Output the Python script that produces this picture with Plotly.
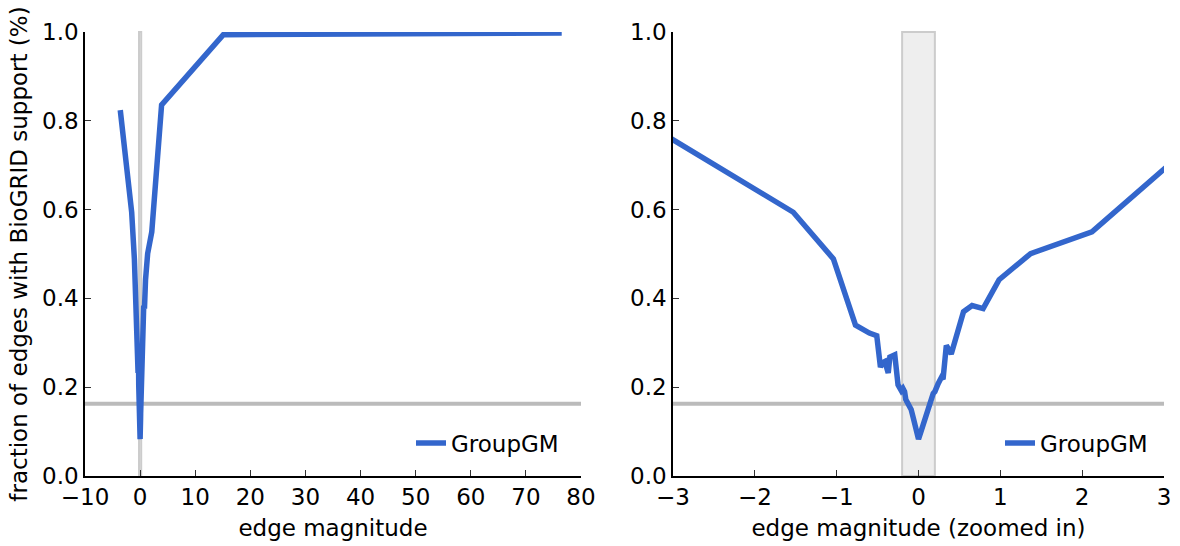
import plotly.graph_objects as go

# Fraction of edges with BioGRID support as a function of edge magnitude
edge_magnitude = [
    -3.6, -1.53, -1.04, -0.77, -0.60, -0.51, -0.465, -0.44, -0.41, -0.385,
    -0.37, -0.35, -0.33, -0.29, -0.25, -0.23, -0.21, -0.19, -0.17, -0.155,
    -0.14, -0.12, -0.09, -0.06, -0.03, 0.0, 0.03, 0.06, 0.08, 0.10, 0.12,
    0.14, 0.16, 0.18, 0.20, 0.22, 0.24, 0.26, 0.28, 0.30, 0.34, 0.40, 0.55,
    0.655, 0.79, 0.985, 1.37, 2.12, 3.9, 15.1, 76.5,
]
groupgm_fraction = [
    0.824, 0.594, 0.489, 0.340, 0.322, 0.316, 0.245, 0.255, 0.258, 0.236,
    0.232, 0.268, 0.270, 0.273, 0.205, 0.198, 0.192, 0.197, 0.190, 0.172,
    0.168, 0.163, 0.150, 0.128, 0.102, 0.083, 0.100, 0.118, 0.126, 0.142,
    0.150, 0.158, 0.170, 0.186, 0.190, 0.205, 0.208, 0.215, 0.222, 0.218,
    0.294, 0.275, 0.370, 0.384, 0.377, 0.442, 0.501, 0.550, 0.836, 0.994,
    0.998,
]
baseline_fraction = 0.163
band_low, band_high = -0.2, 0.2
series_name = "GroupGM"

LINE_COLOR = "#3366cc"
FONT = "DejaVu Sans"
FS = 23

fig = go.Figure()

fig.add_trace(go.Scatter(
    x=edge_magnitude, y=groupgm_fraction, mode="lines", name=series_name,
    line=dict(color=LINE_COLOR, width=5.5), xaxis="x", yaxis="y",
    legend="legend",
))
fig.add_trace(go.Scatter(
    x=edge_magnitude, y=groupgm_fraction, mode="lines", name=series_name,
    line=dict(color=LINE_COLOR, width=5.5), xaxis="x2", yaxis="y2",
    legend="legend2",
))

# Shaded band around zero and baseline fraction, on both panels
for xr, yr in (("x", "y"), ("x2", "y2")):
    fig.add_shape(type="rect", xref=xr, yref=f"{yr} domain",
                  x0=band_low, x1=band_high, y0=0, y1=1,
                  fillcolor="#eeeeee", line=dict(color="#cccccc", width=2),
                  layer="below")
    fig.add_shape(type="line", xref=f"{xr} domain", yref=yr,
                  x0=0, x1=1, y0=baseline_fraction, y1=baseline_fraction,
                  line=dict(color="#bbbbbb", width=4), layer="below")

axis_common = dict(
    showgrid=False, zeroline=False, showline=True, linecolor="black",
    linewidth=1.5, ticks="inside", ticklen=6, tickwidth=1.2,
    tickcolor="#333333", tickfont=dict(family=FONT, size=FS, color="black"),
    mirror=False, automargin=False,
)

W, H = 1180, 546
def xd(a, b):
    return [a / W, b / W]
ydom = [(H - 476) / H, (H - 32) / H]

fig.update_layout(
    width=W, height=H,
    margin=dict(l=0, r=0, t=0, b=0),
    plot_bgcolor="white", paper_bgcolor="white",
    font=dict(family=FONT, size=FS, color="black"),
    xaxis=dict(axis_common, domain=xd(85, 581), range=[-10, 80], dtick=10,
               title=dict(text="edge magnitude", standoff=11,
                          font=dict(family=FONT, size=FS))),
    yaxis=dict(axis_common, domain=ydom, range=[0, 1], dtick=0.2,
               tickformat=".1f",
               title=dict(text="fraction of edges with BioGRID support (%)",
                          standoff=8, font=dict(family=FONT, size=FS))),
    xaxis2=dict(axis_common, domain=xd(673, 1164), range=[-3, 3], dtick=1,
                anchor="y2",
                title=dict(text="edge magnitude (zoomed in)", standoff=11,
                           font=dict(family=FONT, size=FS))),
    yaxis2=dict(axis_common, domain=ydom, range=[0, 1], dtick=0.2,
                tickformat=".1f", anchor="x2"),
    legend=dict(x=564 / W, y=(H - 443) / H, xanchor="right", yanchor="middle",
                bgcolor="rgba(0,0,0,0)", itemwidth=30,
                font=dict(family=FONT, size=FS)),
    legend2=dict(x=1153 / W, y=(H - 443) / H, xanchor="right",
                 yanchor="middle", bgcolor="rgba(0,0,0,0)", itemwidth=30,
                 font=dict(family=FONT, size=FS)),
    showlegend=True,
)

fig.write_html("out.html")
